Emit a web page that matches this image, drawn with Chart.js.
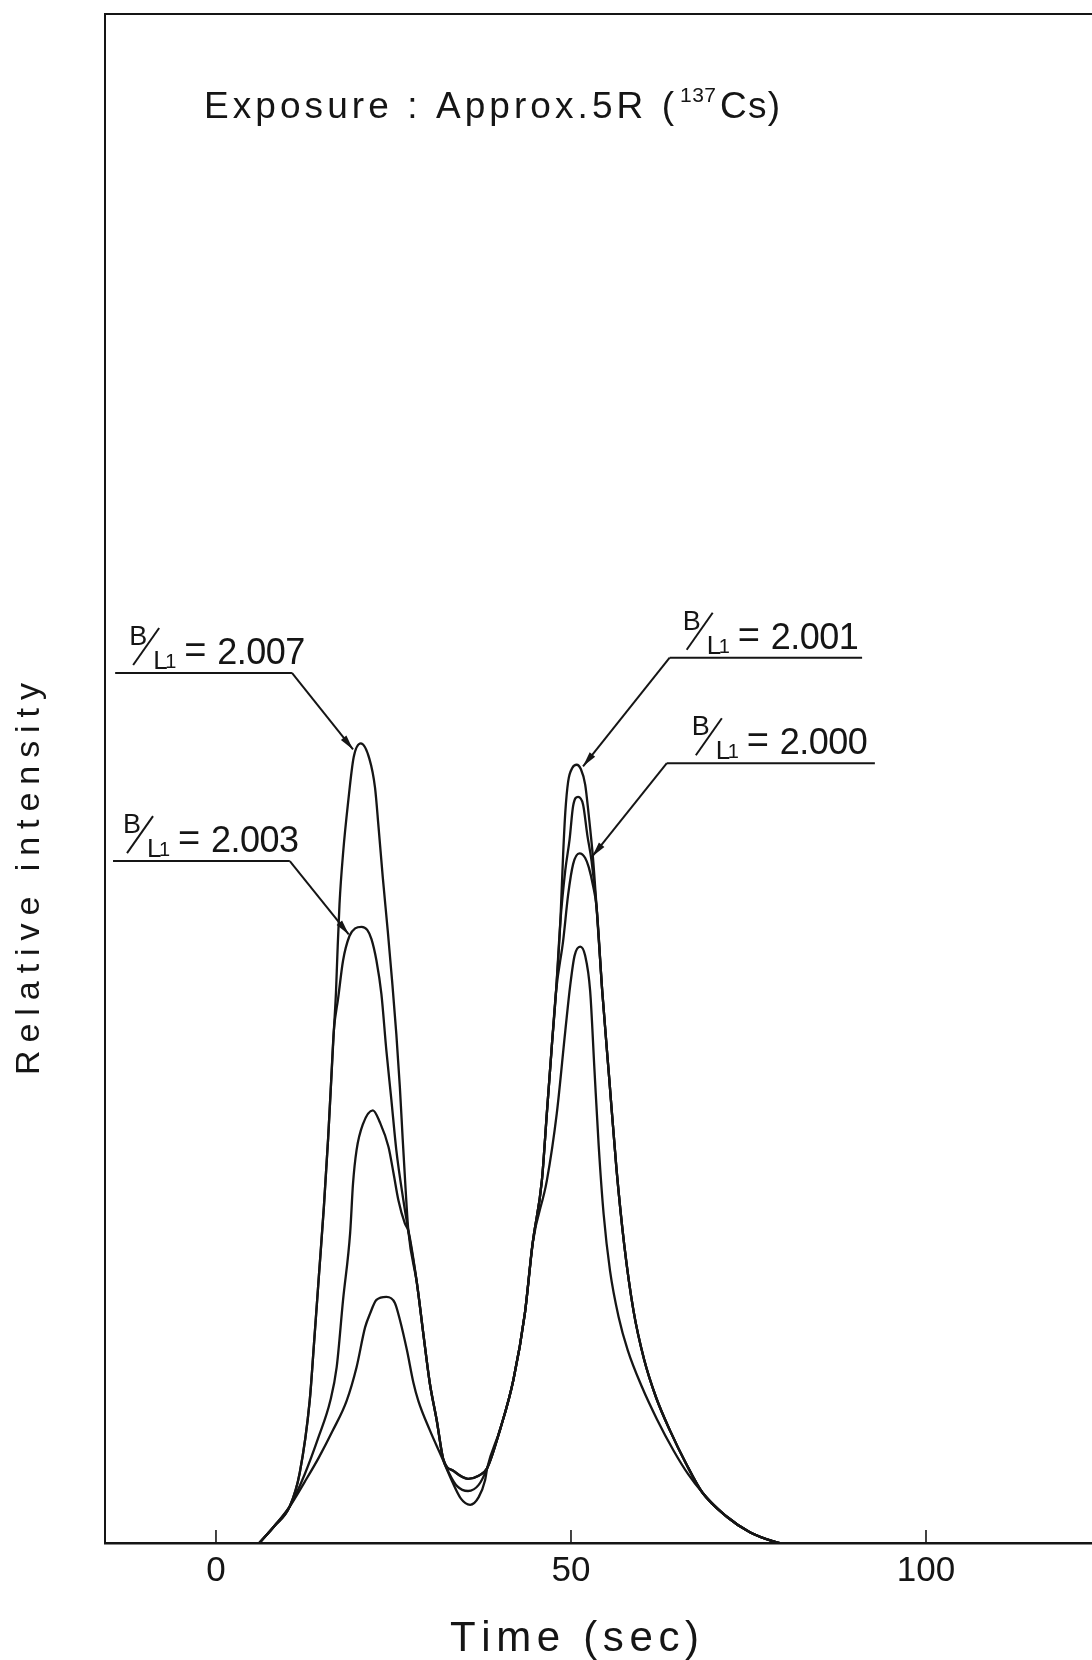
<!DOCTYPE html>
<html>
<head>
<meta charset="utf-8">
<title>Relative intensity vs time</title>
<script src="https://cdn.jsdelivr.net/npm/chart.js@4.4.1/dist/chart.umd.min.js"></script>
<style>
html, body { margin: 0; padding: 0; background: #fff; }
#wrap { width: 1092px; height: 1660px; position: relative; }
</style>
</head>
<body>
<div id="wrap"><canvas id="glowChart"></canvas></div>
<script>
// values: time (sec) / relative intensity (0-100 = frame height)
var t2007 = [6.1, 8.2, 10.4, 11.8, 13.2, 13.8, 14.5, 15.2, 15.8, 16.2, 16.6, 16.9, 17.1, 17.4, 17.9, 18.6, 19.4, 20.4, 21.6, 22.4, 22.9, 23.5, 24.2, 24.8, 25.4, 25.9, 26.3, 26.7, 27.1, 28.3, 29.2, 30.1, 31.1, 32.0, 33.5, 35.5, 37.0, 38.2, 40.0, 41.9, 43.5, 44.6, 46.6, 48.0, 49.2, 49.9, 50.5, 51.3, 52.0, 52.7, 53.3, 53.9, 54.6, 55.5, 56.7, 58.0, 60.0, 62.1, 64.5, 66.5, 68.5, 72.0, 75.2, 78.5, 79.4];
var i2007 = [0, 1.1, 2.4, 4.6, 9.3, 13.0, 17.5, 22.0, 26.5, 30.0, 33.5, 36.0, 38.5, 41.8, 45.1, 48.4, 51.4, 52.3, 51.3, 49.4, 46.8, 43.5, 40.0, 36.8, 33.3, 29.8, 26.4, 23.2, 20.4, 17.0, 13.7, 10.5, 8.0, 5.5, 4.7, 4.2, 4.4, 4.9, 7.4, 10.7, 15.0, 19.6, 23.7, 28.1, 33.5, 36.5, 38.4, 39.0, 38.4, 36.1, 31.0, 26.0, 21.5, 17.8, 14.8, 12.6, 10.2, 8.1, 6.0, 4.5, 3.3, 1.7, 0.7, 0.1, 0];

var t2003 = [6.1, 8.2, 10.4, 11.8, 13.2, 13.8, 14.5, 15.2, 15.8, 16.2, 16.6, 17.2, 17.9, 18.8, 19.6, 20.5, 21.3, 21.9, 22.6, 23.3, 24.0, 24.7, 25.4, 26.4, 27.1, 28.3, 29.2, 30.1, 31.1, 32.0, 33.5, 35.5, 37.0, 38.2, 40.0, 41.9, 43.5, 44.6, 45.9, 46.6, 47.3, 47.9, 48.5, 49.2, 49.8, 50.3, 51.0, 51.7, 52.3, 52.9, 53.6, 54.4, 55.4, 56.4, 57.5, 58.8, 60.3, 62.0, 64.0, 66.2, 68.5, 72.0, 75.2, 78.5, 79.4];
var i2003 = [0, 1.1, 2.4, 4.6, 9.3, 13.0, 17.5, 22.0, 26.5, 30.0, 33.5, 35.6, 38.1, 39.7, 40.2, 40.3, 40.1, 39.5, 38.1, 35.9, 32.2, 29.0, 25.7, 22.4, 20.4, 17.0, 13.7, 10.5, 8.0, 5.5, 4.7, 4.2, 4.4, 4.9, 7.4, 10.7, 15.0, 19.6, 23.7, 28.1, 32.5, 36.1, 40.6, 44.0, 46.0, 48.2, 48.8, 48.3, 46.3, 44.6, 41.6, 36.1, 30.3, 24.5, 19.5, 15.2, 12.0, 9.5, 7.3, 5.2, 3.3, 1.7, 0.7, 0.1, 0];

var t2000 = [6.1, 8.2, 10.4, 12.5, 14.5, 16.1, 17.0, 17.9, 18.9, 19.3, 19.8, 20.7, 22.1, 23.1, 24.3, 25.0, 25.7, 26.6, 27.1, 28.3, 29.2, 30.1, 31.1, 32.0, 32.8, 34.0, 35.5, 37.0, 38.2, 40.0, 41.9, 43.5, 44.6, 45.9, 46.6, 47.3, 47.9, 48.9, 49.6, 50.3, 51.2, 52.0, 52.5, 53.1, 53.6, 54.4, 55.4, 56.4, 57.5, 58.8, 60.3, 62.0, 64.0, 66.2, 68.5, 72.0, 75.2, 78.5, 79.4];
var i2000 = [0, 1.1, 2.4, 4.5, 7.0, 9.3, 11.5, 15.9, 20.3, 23.5, 25.7, 27.4, 28.3, 27.5, 25.9, 24.2, 22.4, 20.9, 20.4, 17.0, 13.7, 10.5, 8.0, 5.5, 4.6, 3.7, 3.4, 3.8, 4.9, 7.4, 10.7, 15.0, 19.6, 23.7, 28.1, 32.5, 36.1, 39.4, 42.4, 44.4, 45.1, 44.8, 44.2, 43.0, 41.6, 36.1, 30.3, 24.5, 19.5, 15.2, 12.0, 9.5, 7.3, 5.2, 3.3, 1.7, 0.7, 0.1, 0];

var t2001 = [6.1, 8.2, 10.4, 12.5, 14.5, 16.5, 18.4, 19.8, 21.0, 21.7, 22.6, 24.0, 25.2, 25.9, 26.9, 27.8, 28.5, 30.1, 32.0, 33.0, 34.5, 35.8, 37.0, 37.9, 38.2, 40.0, 41.9, 43.5, 44.6, 45.9, 46.6, 47.3, 47.9, 48.5, 48.9, 49.2, 49.6, 50.2, 50.8, 51.4, 52.0, 52.5, 53.1, 53.6, 54.4, 55.4, 56.4, 57.5, 58.8, 60.3, 62.0, 64.0, 66.2, 68.5, 72.0, 75.2, 78.5, 79.4];
var i2001 = [0, 1.1, 2.4, 4.0, 5.6, 7.4, 9.3, 11.5, 14.1, 15.0, 15.9, 16.1, 15.7, 14.6, 12.6, 10.5, 9.3, 7.4, 5.4, 4.3, 2.9, 2.5, 3.0, 4.1, 4.9, 7.4, 10.7, 15.0, 19.6, 23.7, 28.1, 32.5, 36.1, 40.6, 45.1, 47.8, 49.8, 50.7, 50.9, 50.6, 49.6, 47.6, 44.8, 41.6, 36.1, 30.3, 24.5, 19.5, 15.2, 12.0, 9.5, 7.3, 5.2, 3.3, 1.7, 0.7, 0.1, 0];

var xTicks = [0, 50, 100];

// B/L1 labels: underline ends + height and arrow tip, in data units
var noteText = ['2.007', '2.003', '2.001', '2.000'];
var noteX0 = [-14.2, -14.5, 63.9, 63.5];
var noteX1 = [10.7, 10.4, 91.0, 92.8];
var noteY = [56.9, 44.6, 57.9, 51.0];
var tipX = [19.3, 18.7, 51.7, 53.0];
var tipY = [51.9, 39.8, 50.8, 44.9];
var noteShift = [14, 10, 13, 25];

var FONT = '"Liberation Sans", Arial, sans-serif';
var INK = '#151515';

function pts(t, v) {
    var out = [];
    for (var k = 0; k < t.length; k++) out.push({x: t[k], y: v[k]});
    return out;
}

function drawSpaced(ctx, str, x, y, width) {
    var chars = str.split('');
    var ws = chars.map(function(c) { return ctx.measureText(c).width; });
    var total = ws.reduce(function(a, b) { return a + b; }, 0);
    var gap = chars.length > 1 ? (width - total) / (chars.length - 1) : 0;
    var cx = x;
    for (var k = 0; k < chars.length; k++) {
        ctx.fillText(chars[k], cx, y);
        cx += ws[k] + gap;
    }
}

function drawRatio(ctx, bx, uy, value) {
    ctx.font = '27px ' + FONT;
    ctx.fillText('B', bx, uy - 28);
    ctx.lineWidth = 2;
    ctx.beginPath(); ctx.moveTo(bx + 4, uy - 8); ctx.lineTo(bx + 30, uy - 45); ctx.stroke();
    ctx.font = '26px ' + FONT;
    ctx.fillText('L', bx + 24, uy - 4);
    ctx.font = '20px ' + FONT;
    ctx.fillText('1', bx + 36, uy - 5);
    ctx.font = '38px ' + FONT;
    ctx.fillText('=', bx + 55, uy - 10);
    ctx.font = '36px ' + FONT;
    drawSpaced(ctx, value, bx + 88, uy - 9, 88);
}

var paperNotes = {
    id: 'paperNotes',
    afterDraw: function(chart) {
        var ctx = chart.ctx, xs = chart.scales.x, ys = chart.scales.y, area = chart.chartArea;
        ctx.save();
        ctx.strokeStyle = INK; ctx.fillStyle = INK;
        ctx.textAlign = 'left'; ctx.textBaseline = 'alphabetic';

        // top edge of frame
        ctx.lineWidth = 2;
        ctx.beginPath(); ctx.moveTo(area.left, area.top); ctx.lineTo(area.right, area.top); ctx.stroke();

        // tick marks point into the plot
        ctx.lineWidth = 1.6;
        xs.ticks.forEach(function(t) {
            var px = xs.getPixelForValue(t.value);
            ctx.beginPath(); ctx.moveTo(px, area.bottom); ctx.lineTo(px, area.bottom - 13); ctx.stroke();
        });

        // B/L1 annotations with leader arrows
        for (var k = 0; k < noteText.length; k++) {
            var x0 = xs.getPixelForValue(noteX0[k]), x1 = xs.getPixelForValue(noteX1[k]);
            var uy = ys.getPixelForValue(noteY[k]);
            var tx = xs.getPixelForValue(tipX[k]), ty = ys.getPixelForValue(tipY[k]);
            var sx = Math.abs(tx - x1) < Math.abs(tx - x0) ? x1 : x0;
            ctx.lineWidth = 2;
            ctx.beginPath(); ctx.moveTo(x0, uy); ctx.lineTo(x1, uy); ctx.stroke();
            ctx.beginPath(); ctx.moveTo(sx, uy); ctx.lineTo(tx, ty); ctx.stroke();
            var ang = Math.atan2(ty - uy, tx - sx);
            ctx.beginPath();
            ctx.moveTo(tx, ty);
            ctx.lineTo(tx - 15 * Math.cos(ang) + 3.5 * Math.sin(ang), ty - 15 * Math.sin(ang) - 3.5 * Math.cos(ang));
            ctx.lineTo(tx - 15 * Math.cos(ang) - 3.5 * Math.sin(ang), ty - 15 * Math.sin(ang) + 3.5 * Math.cos(ang));
            ctx.closePath(); ctx.fill();
            drawRatio(ctx, x0 + noteShift[k], uy, noteText[k]);
        }

        // exposure note
        ctx.font = '37px ' + FONT;
        drawSpaced(ctx, 'Exposure : Approx.5R (', 204, 118, 470);
        ctx.font = '21px ' + FONT;
        drawSpaced(ctx, '137', 680, 102, 36);
        ctx.font = '37px ' + FONT;
        drawSpaced(ctx, 'Cs)', 720, 118, 60);

        // axis titles
        ctx.font = '42px ' + FONT;
        drawSpaced(ctx, 'Time (sec)', 450, 1651, 249);
        ctx.translate(39, 1075);
        ctx.rotate(-Math.PI / 2);
        ctx.font = '34px ' + FONT;
        drawSpaced(ctx, 'Relative intensity', 0, 0, 392);
        ctx.restore();
    }
};

var lineStyle = { borderColor: INK, borderWidth: 2.3, pointRadius: 0, fill: false, cubicInterpolationMode: 'monotone' };

var ctx = document.getElementById('glowChart').getContext('2d');
var glowChart = new Chart(ctx, {
    type: 'line',
    data: {
        datasets: [
            Object.assign({ label: 'B/L1 = 2.007', data: pts(t2007, i2007) }, lineStyle),
            Object.assign({ label: 'B/L1 = 2.003', data: pts(t2003, i2003) }, lineStyle),
            Object.assign({ label: 'B/L1 = 2.000', data: pts(t2000, i2000) }, lineStyle),
            Object.assign({ label: 'B/L1 = 2.001', data: pts(t2001, i2001) }, lineStyle)
        ]
    },
    options: {
        responsive: true,
        maintainAspectRatio: false,
        animation: false,
        devicePixelRatio: 1,
        layout: { padding: { top: 14, right: 0, bottom: 0, left: 0 } },
        plugins: {
            legend: { display: false },
            tooltip: { enabled: false }
        },
        scales: {
            x: {
                type: 'linear',
                min: -15.63,
                max: 123.38,
                afterFit: function(s) { s.height = 117; },
                afterBuildTicks: function(s) { s.ticks = xTicks.map(function(v) { return {value: v}; }); },
                grid: { display: false, drawTicks: false },
                border: { display: true, color: INK, width: 2.5 },
                ticks: {
                    font: { family: FONT, size: 35 },
                    color: INK,
                    padding: 7,
                    maxRotation: 0,
                    autoSkip: false
                }
            },
            y: {
                type: 'linear',
                min: 0,
                max: 100,
                afterFit: function(s) { s.width = 105; },
                grid: { display: false, drawTicks: false },
                border: { display: true, color: INK, width: 2 },
                ticks: { display: false }
            }
        }
    },
    plugins: [paperNotes]
});
</script>
</body>
</html>
